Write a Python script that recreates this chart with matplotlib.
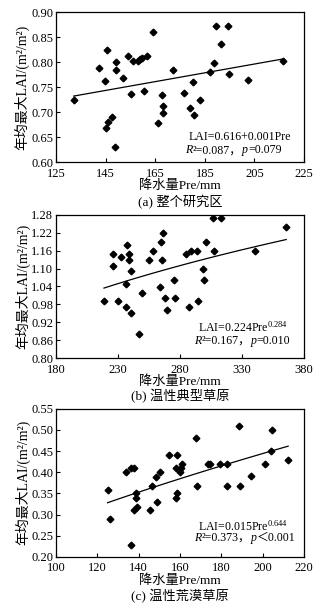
import numpy as np
import matplotlib
matplotlib.use("Agg")
import matplotlib.pyplot as plt

FONTS = ['Liberation Serif', 'Noto Sans CJK SC']
plt.rcParams['font.family'] = FONTS
plt.rcParams['mathtext.fontset'] = 'custom'
plt.rcParams['mathtext.rm'] = 'Liberation Serif'
plt.rcParams['mathtext.it'] = 'Liberation Serif:italic'

# (a) 整个研究区
pre_a = [132.1, 142.4, 144.7, 145.5, 145.3, 145.8, 147.7, 148.7, 149.1, 149.1,
         152.1, 154.0, 155.1, 155.9, 158.0, 158.8, 159.5, 160.6, 161.8, 164.2,
         166.2, 167.6, 168.2, 168.3, 172.3, 176.4, 179.1, 180.3, 180.8, 183.0,
         187.1, 188.8, 189.4, 191.4, 194.3, 194.6, 202.3, 216.5]
lai_a = [0.725, 0.788, 0.762, 0.825, 0.668, 0.681, 0.690, 0.630, 0.800, 0.785,
         0.769, 0.812, 0.737, 0.803, 0.802, 0.807, 0.808, 0.742, 0.812, 0.861,
         0.678, 0.735, 0.713, 0.698, 0.785, 0.739, 0.709, 0.760, 0.694, 0.724,
         0.781, 0.799, 0.872, 0.836, 0.873, 0.776, 0.764, 0.803]
fit_a = (0.616, 0.00088)   # 线性

# (b) 温性典型草原
pre_b = [218.6, 225.5, 226.0, 230.0, 232.4, 236.4, 236.7, 236.9, 239.1, 239.1,
         240.2, 240.4, 246.5, 249.4, 255.3, 258.5, 263.8, 264.6, 265.1, 266.2,
         267.5, 269.4, 274.7, 276.1, 284.5, 286.9, 289.1, 293.9, 294.6, 298.1,
         298.9, 301.1, 306.9, 307.2, 313.1, 340.1, 365.6]
lai_b = [0.990, 1.150, 1.110, 0.990, 1.139, 0.970, 1.049, 1.180, 1.150, 1.129,
         1.090, 0.950, 0.881, 1.019, 1.129, 1.158, 1.039, 1.189, 1.129, 1.220,
         1.000, 0.961, 1.060, 1.000, 1.150, 0.970, 1.158, 1.158, 0.990, 1.100,
         1.060, 1.189, 1.269, 1.158, 1.269, 1.158, 1.238]
fit_b = (0.224, 0.284)     # 幂函数

# (c) 温性荒漠草原
pre_c = [124.9, 126.2, 134.0, 136.1, 136.2, 137.7, 137.8, 138.6, 138.6, 139.3,
         145.6, 146.4, 148.2, 149.0, 150.1, 154.7, 157.8, 157.9, 158.6, 158.6,
         160.0, 160.3, 161.1, 167.7, 168.3, 173.7, 174.7, 179.3, 182.5, 182.8,
         188.7, 188.9, 194.5, 201.0, 204.1, 204.4, 212.3]
lai_c = [0.359, 0.289, 0.400, 0.229, 0.409, 0.310, 0.409, 0.350, 0.340, 0.318,
         0.310, 0.368, 0.390, 0.329, 0.400, 0.441, 0.340, 0.409, 0.350, 0.441,
         0.400, 0.409, 0.420, 0.480, 0.368, 0.420, 0.420, 0.420, 0.420, 0.368,
         0.510, 0.368, 0.391, 0.420, 0.450, 0.499, 0.430]
fit_c = (0.01465, 0.644)

panels = [
    dict(x=pre_a, y=lai_a, kind='lin', coef=fit_a, xlim=(125, 225), xt=np.arange(125, 226, 20),
         ylim=(0.60, 0.90), yt=np.arange(0.60, 0.901, 0.05),
         eq1='LAI=0.616+0.001Pre', r2='0.087', pv='=0.079',
         cap='(a) 整个研究区', rect=[0.167, 0.735, 0.738, 0.245],
         pos1=(0.536, 0.167), pos2=(0.522, 0.08)),
    dict(x=pre_b, y=lai_b, kind='pow', coef=fit_b, xlim=(180, 380), xt=np.arange(180, 381, 50),
         ylim=(0.80, 1.28), yt=np.arange(0.80, 1.281, 0.06),
         eq1=r'LAI=0.224Pre$^{0.284}$', r2='0.167', pv='=0.010',
         cap='(b) 温性典型草原', rect=[0.167, 0.415, 0.738, 0.234],
         pos1=(0.572, 0.217), pos2=(0.557, 0.119)),
    dict(x=pre_c, y=lai_c, kind='pow', coef=fit_c, xlim=(100, 220), xt=np.arange(100, 221, 20),
         ylim=(0.20, 0.55), yt=np.arange(0.20, 0.551, 0.05),
         eq1=r'LAI=0.015Pre$^{0.644}$', r2='0.373', pv='＜0.001',
         cap='(c) 温性荒漠草原', rect=[0.167, 0.09, 0.738, 0.242],
         pos1=(0.572, 0.21), pos2=(0.557, 0.128)),
]

FS = 8.6

fig = plt.figure(figsize=(3.36, 6.12), dpi=100)

for p in panels:
    ax = fig.add_axes(p['rect'])
    ax.plot(p['x'], p['y'], linestyle='none', marker='D', color='black', markersize=3.4)
    xs = np.linspace(min(p['x']), max(p['x']), 50)
    a, b = p['coef']
    ys = a + b * xs if p['kind'] == 'lin' else a * xs ** b
    ax.plot(xs, ys, color='black', linewidth=0.9)
    ax.set_xlim(*p['xlim'])
    ax.set_ylim(*p['ylim'])
    ax.set_xticks(p['xt'])
    ax.set_yticks(p['yt'])
    ax.set_yticklabels(['%.2f' % v for v in p['yt']])
    ax.tick_params(direction='in', length=3, width=0.8, labelsize=9)
    ax.tick_params(axis='x', pad=4)
    ax.tick_params(axis='y', pad=2)
    for s in ax.spines.values():
        s.set_linewidth(0.9)
    ax.set_ylabel('年均最大LAI/(m²/m²)', fontsize=10, labelpad=1)
    ax.set_xlabel('降水量Pre/mm', fontsize=9.5, labelpad=0)

    # 回归方程
    ax.text(p['pos1'][0], p['pos1'][1], p['eq1'], transform=ax.transAxes,
            ha='left', va='center', fontsize=FS)
    # R², p 分段书写（斜体 + 中文逗号）
    t = ax.text(p['pos2'][0], p['pos2'][1], 'R', transform=ax.transAxes,
                ha='left', va='center', fontsize=FS, fontstyle='italic')
    parts = [('²=' + p['r2'] + '，', 'normal'), ('p', 'italic'), (p['pv'], 'normal')]
    for s, st in parts:
        t = ax.annotate(s, xy=(1, 0.5), xycoords=t, ha='left', va='center',
                        fontsize=FS, fontstyle=st, family=FONTS)

    ax.text(0.5, -0.265, p['cap'], transform=ax.transAxes, ha='center', va='center', fontsize=9.5)

fig.savefig('out.png', dpi=100)
